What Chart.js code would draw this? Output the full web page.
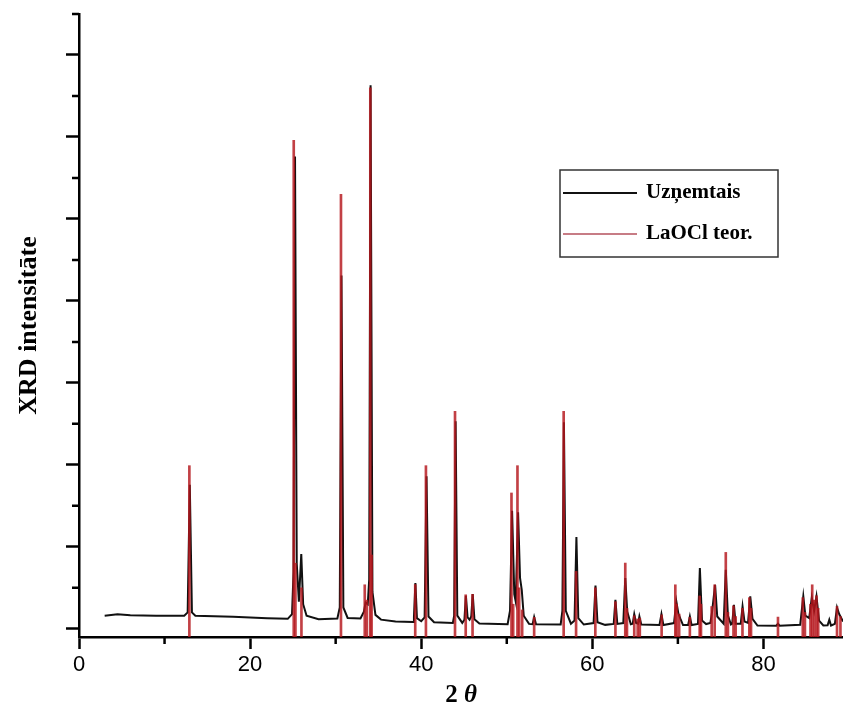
<!DOCTYPE html>
<html>
<head>
<meta charset="utf-8">
<title>XRD LaOCl</title>
<script src="https://cdn.jsdelivr.net/npm/chart.js@4.4.0/dist/chart.umd.min.js"></script>
<style>
  html, body { margin: 0; padding: 0; background: #fff; }
  #wrap { width: 843px; height: 714px; }
</style>
</head>
<body>
<div id="wrap"><canvas id="xrd" width="843" height="714"></canvas></div>
<script>
var measTheta = [3.0, 4.5, 6.0, 9.0, 12.3, 12.7, 12.95, 13.2, 13.6, 18.0, 22.0, 24.4, 24.9, 25.08, 25.25, 25.45, 25.7, 25.98, 26.2, 26.6,
  28.0, 30.2, 30.48, 30.68, 30.9, 31.4, 32.9, 33.3, 33.5, 33.75, 33.92, 34.08, 34.3, 34.65, 35.3, 37.0, 39.05, 39.15, 39.32, 39.5,
  40.0, 40.4, 40.62, 40.85, 41.5, 43.7, 43.85, 44.02, 44.22, 44.8, 45.05, 45.22, 45.42, 45.65, 45.85, 46.02, 46.22, 46.8, 50.1, 50.38,
  50.62, 50.88, 51.05, 51.32, 51.55, 51.75, 51.98, 52.6, 53.02, 53.2, 53.42, 56.3, 56.5, 56.68, 56.9, 57.5, 57.92, 58.14, 58.36, 59.0,
  60.15, 60.37, 60.6, 61.5, 62.5, 62.7, 62.92, 63.62, 63.85, 64.08, 64.5, 64.72, 64.9, 65.12, 65.35, 65.5, 65.72, 67.85, 68.08, 68.3,
  69.55, 69.82, 70.05, 70.3, 70.6, 71.2, 71.4, 71.6, 72.35, 72.57, 72.82, 73.3, 73.8, 74.0, 74.35, 74.6, 75.35, 75.6, 75.85, 76.2,
  76.35, 76.55, 76.75, 77.35, 77.56, 77.78, 78.2, 78.46, 78.72, 79.3, 81.5, 81.7, 81.9, 84.3, 84.66, 84.9, 85.35, 85.65, 85.92, 86.2,
  86.5, 87.0, 87.5, 87.7, 87.9, 88.35, 88.6, 88.85, 89.3];
var measInt = [160, 178, 165, 160, 160, 200, 1758, 200, 160, 148, 130, 122, 180, 700, 5763, 800, 330, 912, 300, 160,
  118, 125, 260, 4310, 260, 132, 125, 210, 320, 300, 600, 6630, 450, 170, 112, 88, 82, 140, 558, 130,
  92, 140, 1860, 150, 80, 72, 160, 2531, 160, 72, 110, 403, 140, 110, 150, 424, 115, 64, 56, 220,
  1441, 420, 330, 1420, 620, 476, 160, 60, 56, 143, 56, 54, 220, 2519, 220, 62, 100, 1120, 130, 52,
  70, 529, 80, 48, 60, 354, 60, 70, 619, 210, 56, 62, 179, 70, 62, 150, 52, 46, 179, 46,
  70, 333, 190, 120, 46, 46, 150, 46, 60, 741, 100, 58, 72, 210, 537, 150, 62, 720, 160, 52,
  62, 293, 62, 62, 272, 90, 72, 395, 120, 40, 38, 62, 38, 50, 395, 160, 130, 380, 220, 395,
  100, 40, 42, 110, 40, 60, 260, 180, 90];

// LaOCl theoretical lines
var refTheta = [12.9, 25.1, 25.3, 26.0, 30.62, 33.4, 33.65, 34.05, 34.2, 39.3, 40.55, 43.95, 45.2, 46.0, 50.55, 50.75, 51.25, 51.45, 51.8, 53.2,
  56.65, 58.1, 60.35, 62.7, 63.85, 64.05, 64.9, 65.3, 65.55, 68.1, 69.7, 69.85, 70.15, 71.4, 72.55, 72.7, 73.95, 74.3, 75.6, 75.85,
  76.5, 76.75, 77.55, 78.35, 78.55, 81.7, 84.6, 84.85, 85.5, 85.7, 85.95, 86.2, 86.4, 88.6, 89.0];
var refInt = [1990, 5960, 800, 500, 5300, 537, 350, 6600, 900, 540, 1990, 2653, 415, 420, 1657, 300, 1990, 500, 230, 140,
  2653, 700, 500, 330, 802, 250, 160, 120, 130, 170, 537, 300, 180, 140, 400, 300, 272, 537, 932, 200,
  280, 150, 250, 380, 250, 143, 380, 200, 300, 537, 350, 403, 250, 272, 150];

var xTickValues = [0, 10, 20, 30, 40, 50, 60, 70, 80];
var yTickValues = [0, 500, 1000, 1500, 2000, 2500, 3000, 3500, 4000, 4500, 5000, 5500, 6000, 6500, 7000, 7500];
var seriesNames = ["Uzņemtais", "LaOCl teor."];
var yTitle = "XRD intensitāte";
var xTitle = ["2 ", "θ"];

var Y_MIN = -100, Y_MAX = 7500, X_MIN = 0, X_MAX = 89.3;

// short ticks between the labelled ones
var minorTicks = {
  id: "minorTicks",
  afterDraw: function (chart) {
    var ctx = chart.ctx, sx = chart.scales.x, sy = chart.scales.y;
    ctx.save();
    ctx.strokeStyle = "#000";
    ctx.lineWidth = 2.5;
    ctx.beginPath();
    sx.ticks.forEach(function (t) {
      if (t.value % 20 === 0) return;
      var px = sx.getPixelForValue(t.value);
      ctx.moveTo(px, sx.top);
      ctx.lineTo(px, sx.top + 7);
    });
    sy.ticks.forEach(function (t) {
      if (t.value % 1000 === 0) return;
      var py = sy.getPixelForValue(t.value);
      ctx.moveTo(sy.right, py);
      ctx.lineTo(sy.right - 7, py);
    });
    ctx.stroke();
    ctx.restore();
  }
};

// framed legend inside the plot
var boxLegend = {
  id: "boxLegend",
  afterDraw: function (chart, args, o) {
    var ctx = chart.ctx;
    ctx.save();
    ctx.strokeStyle = "#333";
    ctx.lineWidth = 1.5;
    ctx.strokeRect(o.left, o.top, o.width, o.height);
    ctx.font = "bold 21px 'Liberation Serif'";
    ctx.textBaseline = "middle";
    ctx.fillStyle = "#000";
    chart.data.datasets.forEach(function (ds, i) {
      var yy = o.top + o.firstRow + i * o.rowGap;
      ctx.strokeStyle = ds.legendColor;
      ctx.lineWidth = i === 0 ? 2 : 1.5;
      ctx.beginPath();
      ctx.moveTo(o.left + 3, yy);
      ctx.lineTo(o.left + 77, yy);
      ctx.stroke();
      ctx.fillText(ds.label, o.left + 86, yy);
    });
    ctx.restore();
  }
};

// "2 θ" with an italic theta
var xAxisTitle = {
  id: "xAxisTitle",
  afterDraw: function (chart, args, o) {
    var ctx = chart.ctx, ca = chart.chartArea;
    ctx.save();
    ctx.fillStyle = "#000";
    ctx.textBaseline = "alphabetic";
    var f1 = "bold 25px 'Liberation Serif'", f2 = "italic bold 25px 'Liberation Serif'";
    ctx.font = f1;
    var w1 = ctx.measureText(xTitle[0]).width;
    ctx.font = f2;
    var w2 = ctx.measureText(xTitle[1]).width;
    var x0 = (ca.left + ca.right) / 2 + o.shift - (w1 + w2) / 2;
    ctx.font = f1;
    ctx.fillText(xTitle[0], x0, o.baseline);
    ctx.font = f2;
    ctx.fillText(xTitle[1], x0 + w1, o.baseline);
    ctx.restore();
  }
};

var ctx = document.getElementById("xrd");
var xrdChart = new Chart(ctx, {
  type: "line",
  data: {
    datasets: [
      {
        label: seriesNames[0],
        data: measTheta.map(function (t, i) { return { x: t, y: measInt[i] }; }),
        borderColor: "#111",
        legendColor: "#111",
        borderWidth: 2,
        pointRadius: 0,
        tension: 0,
        fill: false,
        order: 2
      },
      {
        type: "bar",
        label: seriesNames[1],
        data: refTheta.map(function (t, i) { return { x: t, y: refInt[i] }; }),
        base: Y_MIN,
        backgroundColor: "rgba(180,22,28,0.82)",
        legendColor: "#b4505c",
        borderWidth: 0,
        barThickness: 2,
        order: 1
      }
    ]
  },
  options: {
    responsive: false,
    devicePixelRatio: 1,
    animation: false,
    layout: { padding: { top: 14, right: 0, bottom: 0, left: 0 } },
    plugins: {
      legend: { display: false },
      tooltip: { enabled: false },
      boxLegend: { left: 560, top: 170, width: 218, height: 87, firstRow: 23, rowGap: 41 },
      xAxisTitle: { shift: 0, baseline: 702 }
    },
    scales: {
      x: {
        type: "linear",
        min: X_MIN,
        max: X_MAX,
        offset: false,
        afterBuildTicks: function (s) { s.ticks = xTickValues.map(function (v) { return { value: v }; }); },
        afterFit: function (s) { s.height = 77; },
        border: { display: true, color: "#000", width: 2.5 },
        grid: {
          drawOnChartArea: false,
          drawTicks: true,
          tickLength: 12,
          tickWidth: 2.5,
          offset: false,
          tickColor: function (c) { return c.tick && c.tick.value % 20 === 0 ? "#000" : "rgba(0,0,0,0)"; }
        },
        ticks: {
          autoSkip: false,
          maxRotation: 0,
          padding: 3,
          color: "#000",
          font: { family: "Liberation Sans", size: 22 },
          callback: function (v) { return v % 20 === 0 ? String(v) : ""; }
        }
      },
      y: {
        min: Y_MIN,
        max: Y_MAX,
        afterBuildTicks: function (s) { s.ticks = yTickValues.map(function (v) { return { value: v }; }); },
        afterFit: function (s) { s.width = 79; },
        border: { display: true, color: "#000", width: 2.5 },
        grid: {
          drawOnChartArea: false,
          drawTicks: true,
          tickLength: 13,
          tickWidth: 2.5,
          tickColor: function (c) { return c.tick && c.tick.value % 1000 === 0 ? "#000" : "rgba(0,0,0,0)"; }
        },
        ticks: { display: false },
        title: {
          display: true,
          text: yTitle,
          color: "#000",
          font: { family: "Liberation Serif", weight: "bold", size: 26 },
          padding: { top: 14, bottom: 0 }
        }
      }
    }
  },
  plugins: [minorTicks, boxLegend, xAxisTitle]
});
</script>
</body>
</html>
